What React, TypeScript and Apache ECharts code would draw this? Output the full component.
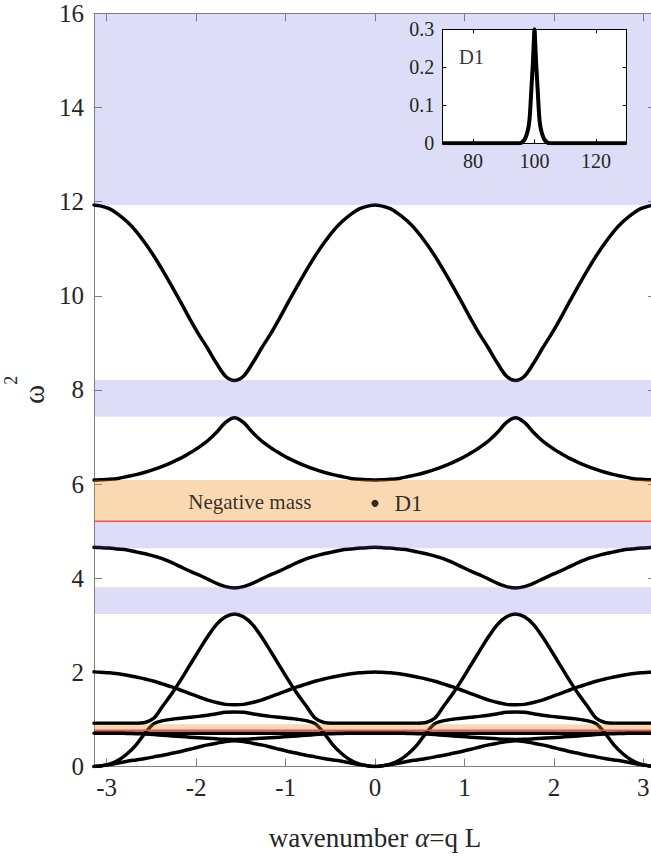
import React, { useEffect, useRef } from 'react';
import * as echarts from 'echarts';

// ---------- data ----------
// distance d from the Brillouin-zone points ±π/2 (one quarter period)
const dGrid = [0, 0.1, 0.2, 0.3, 0.4, 0.5, 0.6, 0.7, 0.8, 0.9, 1.0, 1.1, 1.2, 1.3, 1.4, 1.5, 1.5708];

// ω² of each dispersion branch at the distances in dGrid
const branch1 = [8.2, 8.29, 8.56, 8.88, 9.18, 9.51, 9.86, 10.2, 10.53, 10.84, 11.12, 11.37, 11.57, 11.73, 11.85, 11.91, 11.93];
const branch2 = [7.41, 7.31, 7.1, 6.92, 6.78, 6.66, 6.55, 6.46, 6.38, 6.31, 6.25, 6.2, 6.16, 6.12, 6.1, 6.09, 6.085];
const branch3 = [3.79, 3.82, 3.89, 3.98, 4.07, 4.15, 4.24, 4.33, 4.41, 4.47, 4.52, 4.56, 4.6, 4.62, 4.64, 4.65, 4.655];
const branch4 = [3.24, 3.18, 3.02, 2.76, 2.46, 2.15, 1.84, 1.55, 1.29, 1.03, 0.935, 0.92, 0.92, 0.92, 0.92, 0.92, 0.92];
const branch5 = [1.31, 1.32, 1.36, 1.41, 1.48, 1.55, 1.62, 1.69, 1.75, 1.81, 1.86, 1.9, 1.94, 1.97, 1.99, 2.0, 2.01];
const branch6 = [1.16, 1.15, 1.12, 1.09, 1.065, 1.045, 1.025, 1.005, 0.975, 0.91, 0.71, 0.46, 0.27, 0.13, 0.05, 0.012, 0];
const branch7 = [0.575, 0.578, 0.587, 0.598, 0.61, 0.623, 0.637, 0.65, 0.665, 0.678, 0.69, 0.698, 0.703, 0.705, 0.705, 0.705, 0.705];
const branch8 = [0.545, 0.53, 0.495, 0.46, 0.415, 0.365, 0.32, 0.28, 0.24, 0.205, 0.17, 0.14, 0.11, 0.075, 0.04, 0.012, 0];
const flatBranch = 0.705;

// band gaps (light blue) and negative-mass bands (orange), as [low, high] ω²
const bandGaps = [
  [11.93, 16],
  [7.43, 8.21],
  [4.635, 5.21],
  [3.24, 3.806],
];
const negativeMassBands = [
  [5.21, 6.085],
  [0.77, 0.9],
];
const redLevels = [5.21, 0.77];

const d1Point = [0, 5.59];
const negMassLabelAt = [-1.4, 5.62];

const xTicks = [-3, -2, -1, 0, 1, 2, 3];

// inset: D1 mode profile
const insetX = [70, 95, 96, 97, 98, 98.5, 99, 99.5, 100, 100.5, 101, 101.5, 102, 103, 104, 105, 130];
const insetY = [0, 0, 0.003, 0.013, 0.04, 0.075, 0.145, 0.215, 0.3, 0.215, 0.145, 0.075, 0.04, 0.013, 0.003, 0, 0];
const insetXTicks = [80, 100, 120];
const insetLabelAt = [79.5, 0.227];

// ---------- helpers ----------
const PI = Math.PI;
const HALF_PI = Math.PI / 2;
const FONT = '"Liberation Serif", "DejaVu Serif", serif';

function expand(vals: number[]): number[][] {
  const pts: number[][] = [];
  const n = dGrid.length;
  for (let i = n - 1; i >= 0; i--) pts.push([-HALF_PI - dGrid[i], vals[i]]);
  for (let i = 1; i < n; i++) pts.push([-HALF_PI + dGrid[i], vals[i]]);
  for (let i = n - 2; i >= 0; i--) pts.push([HALF_PI - dGrid[i], vals[i]]);
  for (let i = 1; i < n; i++) pts.push([HALF_PI + dGrid[i], vals[i]]);
  return pts;
}

const AXIS_GRAY = '#808080';
const TEXT = '#262626';

export default function App() {
  const ref = useRef<HTMLDivElement>(null);

  useEffect(() => {
    if (!ref.current) return;
    const chart = echarts.init(ref.current, undefined, { renderer: 'svg' });

    const branches = [branch1, branch2, branch3, branch4, branch5, branch6, branch7, branch8];
    const curveSeries: any[] = branches.map((b) => ({
      type: 'line',
      xAxisIndex: 0,
      yAxisIndex: 0,
      data: expand(b),
      showSymbol: false,
      smooth: 0.3,
      lineStyle: { color: '#000', width: 3.5, join: 'round', cap: 'round' },
      z: 2,
      silent: true,
    }));
    curveSeries.push({
      type: 'line',
      xAxisIndex: 0,
      yAxisIndex: 0,
      data: [[-PI, flatBranch], [PI, flatBranch]],
      showSymbol: false,
      lineStyle: { color: '#000', width: 3.5 },
      z: 2,
      silent: true,
    });

    const bandSeries = (rows: number[][], fill: string) => ({
      type: 'custom',
      xAxisIndex: 0,
      yAxisIndex: 0,
      data: rows.map((r) => [0, r[0], r[1]]),
      encode: { x: 0, y: [1, 2] },
      z: 5,
      silent: true,
      renderItem: (params: any, api: any) => {
        const lo = api.value(1);
        const hi = api.value(2);
        const cs = params.coordSys;
        const yTop = api.coord([0, hi])[1];
        const yBot = api.coord([0, lo])[1];
        return {
          type: 'rect',
          shape: { x: cs.x, y: yTop, width: cs.width, height: yBot - yTop },
          style: { fill },
        };
      },
    });

    const redSeries = redLevels.map((lvl) => ({
      type: 'line',
      xAxisIndex: 0,
      yAxisIndex: 0,
      data: [[-PI, lvl], [PI, lvl]],
      showSymbol: false,
      lineStyle: { color: '#f05050', width: 1.5 },
      z: 6,
      silent: true,
    }));

    const mainLine = { show: true, onZero: false, lineStyle: { color: AXIS_GRAY, width: 1 } };
    const insetLine = { show: true, onZero: false, lineStyle: { color: '#000', width: 1 } };

    const option: any = {
      animation: false,
      backgroundColor: '#fff',
      grid: [
        { left: 94, right: -5, top: 13.3, bottom: 93.5, containLabel: false, outerBoundsMode: 'none' },
        {
          left: 442.3,
          top: 29.3,
          width: 184.4,
          height: 114,
          show: true,
          backgroundColor: '#fff',
          borderWidth: 0,
          zlevel: 1,
          containLabel: false,
          outerBoundsMode: 'none',
        },
      ],
      xAxis: [
        {
          gridIndex: 0,
          type: 'value',
          min: -PI,
          max: PI,
          position: 'bottom',
          axisLine: mainLine,
          axisTick: { show: true, inside: true, length: 8, customValues: xTicks, lineStyle: { color: AXIS_GRAY } },
          axisLabel: { customValues: xTicks, fontSize: 25, fontFamily: FONT, color: TEXT, margin: 8 },
          splitLine: { show: false },
          name: 'wavenumber {i|α}=q L',
          nameLocation: 'middle',
          nameGap: 58,
          nameTextStyle: {
            fontSize: 27,
            fontFamily: FONT,
            color: TEXT,
            rich: { i: { fontSize: 27, fontFamily: FONT, fontStyle: 'italic', color: TEXT } },
          },
        },
        {
          gridIndex: 0,
          type: 'value',
          min: -PI,
          max: PI,
          position: 'top',
          axisLine: mainLine,
          axisTick: { show: true, inside: true, length: 8, customValues: xTicks, lineStyle: { color: AXIS_GRAY } },
          axisLabel: { show: false },
          splitLine: { show: false },
        },
        {
          gridIndex: 1,
          type: 'value',
          min: 70,
          max: 130,
          position: 'bottom',
          zlevel: 1,
          axisLine: insetLine,
          axisTick: { show: true, inside: true, length: 4, customValues: insetXTicks, lineStyle: { color: '#000' } },
          axisLabel: { customValues: insetXTicks, fontSize: 20, fontFamily: FONT, color: TEXT, margin: 8 },
          splitLine: { show: false },
        },
        {
          gridIndex: 1,
          type: 'value',
          min: 70,
          max: 130,
          position: 'top',
          zlevel: 1,
          axisLine: insetLine,
          axisTick: { show: true, inside: true, length: 4, customValues: insetXTicks, lineStyle: { color: '#000' } },
          axisLabel: { show: false },
          splitLine: { show: false },
        },
      ],
      yAxis: [
        {
          gridIndex: 0,
          type: 'value',
          min: 0,
          max: 16,
          interval: 2,
          position: 'left',
          axisLine: mainLine,
          axisTick: { show: true, inside: true, length: 8, lineStyle: { color: AXIS_GRAY } },
          axisLabel: { fontSize: 25, fontFamily: FONT, color: TEXT, margin: 10 },
          splitLine: { show: false },
          name: '{w|ω}{s|2}',
          nameLocation: 'middle',
          nameRotate: 90,
          nameGap: 36,
          nameTextStyle: {
            color: TEXT,
            fontFamily: FONT,
            rich: {
              w: { fontSize: 29, fontFamily: FONT, color: TEXT, lineHeight: 46, verticalAlign: 'bottom' },
              s: { fontSize: 18, fontFamily: FONT, color: TEXT, lineHeight: 18, verticalAlign: 'top' },
            },
          },
        },
        {
          gridIndex: 0,
          type: 'value',
          min: 0,
          max: 16,
          interval: 2,
          position: 'right',
          axisLine: mainLine,
          axisTick: { show: true, inside: true, length: 8, lineStyle: { color: AXIS_GRAY } },
          axisLabel: { show: false },
          splitLine: { show: false },
        },
        {
          gridIndex: 1,
          type: 'value',
          min: 0,
          max: 0.3,
          interval: 0.1,
          position: 'left',
          zlevel: 1,
          axisLine: insetLine,
          axisTick: { show: true, inside: true, length: 4, lineStyle: { color: '#000' } },
          axisLabel: { fontSize: 20, fontFamily: FONT, color: TEXT, margin: 8 },
          splitLine: { show: false },
        },
        {
          gridIndex: 1,
          type: 'value',
          min: 0,
          max: 0.3,
          interval: 0.1,
          position: 'right',
          zlevel: 1,
          axisLine: insetLine,
          axisTick: { show: true, inside: true, length: 4, lineStyle: { color: '#000' } },
          axisLabel: { show: false },
          splitLine: { show: false },
        },
      ],
      series: [
        ...curveSeries,
        bandSeries(bandGaps, 'rgba(100,100,220,0.22)'),
        bandSeries(negativeMassBands, 'rgba(240,140,20,0.33)'),
        ...redSeries,
        {
          type: 'scatter',
          xAxisIndex: 0,
          yAxisIndex: 0,
          data: [d1Point],
          symbol: 'circle',
          symbolSize: 7,
          itemStyle: { color: '#000' },
          z: 8,
          silent: true,
          label: {
            show: true,
            position: 'right',
            distance: 16,
            formatter: 'D1',
            fontSize: 23,
            fontFamily: FONT,
            color: '#000',
          },
        },
        {
          type: 'scatter',
          xAxisIndex: 0,
          yAxisIndex: 0,
          data: [negMassLabelAt],
          symbol: 'circle',
          symbolSize: 1,
          itemStyle: { color: 'rgba(0,0,0,0)' },
          z: 8,
          silent: true,
          label: {
            show: true,
            position: 'inside',
            formatter: 'Negative mass',
            fontSize: 21,
            fontFamily: FONT,
            color: '#000',
          },
        },
        {
          type: 'line',
          xAxisIndex: 2,
          yAxisIndex: 2,
          zlevel: 1,
          data: insetX.map((x, i) => [x, insetY[i]]),
          showSymbol: false,
          smooth: 0.2,
          lineStyle: { color: '#000', width: 4 },
          silent: true,
        },
        {
          type: 'scatter',
          xAxisIndex: 2,
          yAxisIndex: 2,
          zlevel: 1,
          data: [insetLabelAt],
          symbol: 'circle',
          symbolSize: 1,
          itemStyle: { color: 'rgba(0,0,0,0)' },
          silent: true,
          label: {
            show: true,
            position: 'inside',
            formatter: 'D1',
            fontSize: 21,
            fontFamily: FONT,
            color: '#000',
          },
        },
      ],
    };

    chart.setOption(option);
    return () => chart.dispose();
  }, []);

  return (
    <div
      ref={ref}
      style={{ position: 'absolute', left: 0, top: 0, width: 651, height: 860 }}
    />
  );
}
